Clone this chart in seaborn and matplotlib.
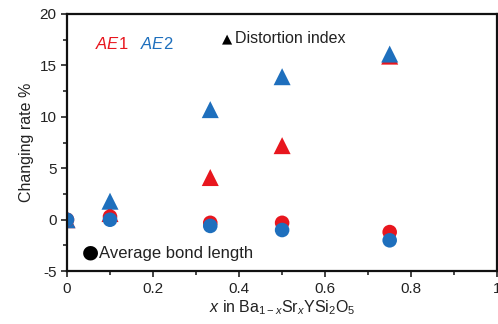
import numpy as np
import pandas as pd
import matplotlib
matplotlib.use('Agg')
import matplotlib.pyplot as plt
import seaborn as sns
from matplotlib.ticker import MultipleLocator

# data
x_vals = [0, 0.1, 0.333, 0.5, 0.75]
ae1_distortion = [0.0, 0.6, 4.1, 7.2, 15.9]
ae2_distortion = [0.0, 1.8, 10.7, 13.9, 16.1]
ae1_bond = [0.0, 0.3, -0.3, -0.3, -1.2]
ae2_bond = [0.0, 0.0, -0.6, -1.0, -2.0]
x_ticklabels = ['0', '0.2', '0.4', '0.6', '0.8', '1']

red = '#e8161e'
blue = '#1e6fbd'

df = pd.DataFrame({
    'x': x_vals * 4,
    'rate': ae1_distortion + ae2_distortion + ae1_bond + ae2_bond,
    'site': ['AE1'] * 5 + ['AE2'] * 5 + ['AE1'] * 5 + ['AE2'] * 5,
    'kind': ['dist'] * 10 + ['bond'] * 10,
})

sns.set_style('ticks')
plt.rcParams['font.family'] = ['Liberation Sans', 'DejaVu Sans']
plt.rcParams['mathtext.fontset'] = 'custom'
plt.rcParams['mathtext.it'] = 'Liberation Sans:italic'
plt.rcParams['mathtext.rm'] = 'Liberation Sans'
plt.rcParams['axes.unicode_minus'] = False

fig = plt.figure(figsize=(4.98, 3.24), dpi=100)
ax = fig.add_axes([0.1345, 0.163, 0.864, 0.794])

sns.scatterplot(data=df[df.kind == 'dist'], x='x', y='rate', hue='site',
                palette={'AE1': red, 'AE2': blue}, marker='^', s=150,
                edgecolor='none', legend=False, ax=ax)
sns.scatterplot(data=df[df.kind == 'bond'], x='x', y='rate', hue='site',
                palette={'AE1': red, 'AE2': blue}, marker='o', s=110,
                edgecolor='none', legend=False, ax=ax)

ax.set_xlim(0, 1)
ax.set_ylim(-5, 20)
ax.set_xticks([0, 0.2, 0.4, 0.6, 0.8, 1.0])
ax.set_xticklabels(x_ticklabels)
ax.xaxis.set_minor_locator(MultipleLocator(0.1))
ax.yaxis.set_major_locator(MultipleLocator(5))
ax.yaxis.set_minor_locator(MultipleLocator(2.5))
ax.tick_params(which='major', direction='out', length=4, width=1.2, labelsize=11, colors='#222222')
ax.tick_params(which='minor', direction='out', length=3, width=1.2)
for sp in ax.spines.values():
    sp.set_linewidth(1.6)
    sp.set_color('#111111')

ax.set_ylabel('Changing rate %', fontsize=11.5, color='#222222')
ax.set_xlabel('$x$ in Ba$_{1-x}$Sr$_x$YSi$_2$O$_5$', fontsize=11.5, color='#222222', labelpad=2)

ax.text(0.065, 16.6, '$AE$1', color=red, fontsize=12)
ax.text(0.17, 16.6, '$AE$2', color=blue, fontsize=12)
ax.text(0.36, 17.2, '\u25b2', color='black', fontsize=9.5, family=['DejaVu Sans'])
ax.text(0.39, 17.2, 'Distortion index', color='#222222', fontsize=11.5)
ax.text(0.035, -3.7, '\u25cf', color='black', fontsize=14, family=['DejaVu Sans'])
ax.text(0.075, -3.7, 'Average bond length', color='#222222', fontsize=12)

fig.savefig('out.png', dpi=100)
